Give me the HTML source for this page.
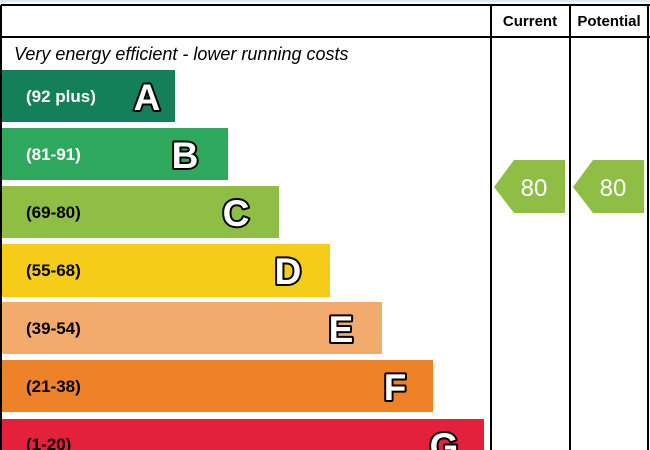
<!DOCTYPE html>
<html><head><style>body{margin:0;background:#fff}svg{display:block}</style></head><body>
<svg width="650" height="450" xmlns="http://www.w3.org/2000/svg" font-family="Liberation Sans, Arial, sans-serif">
<rect x="0" y="0" width="650" height="2" fill="#dde8f0"/>
<g stroke="#000" stroke-width="2" fill="none">
<line x1="1" y1="5" x2="650" y2="5"/>
<line x1="1" y1="37" x2="650" y2="37"/>
<line x1="1" y1="5" x2="1" y2="450"/>
<line x1="491" y1="5" x2="491" y2="450"/>
<line x1="570" y1="5" x2="570" y2="450"/>
<line x1="648" y1="5" x2="648" y2="450"/>
</g>
<text x="530" y="26" font-size="15" font-weight="bold" text-anchor="middle">Current</text>
<text x="609" y="26" font-size="15" font-weight="bold" text-anchor="middle">Potential</text>
<text x="14" y="60" font-size="18" font-style="italic">Very energy efficient - lower running costs</text>
<g font-weight="bold">
<rect x="2" y="70" width="173" height="52" fill="#138059"/>
<rect x="2" y="128" width="226" height="52" fill="#2ea85c"/>
<rect x="2" y="186" width="277" height="52" fill="#8fbe44"/>
<rect x="2" y="244" width="328" height="53" fill="#f5cc17"/>
<rect x="2" y="302" width="380" height="52" fill="#f2aa6d"/>
<rect x="2" y="360" width="431" height="52" fill="#ee8228"/>
<rect x="2" y="419" width="482" height="31" fill="#e4213b"/>
<g font-size="17">
<text x="26" y="102" fill="#fff">(92 plus)</text>
<text x="26" y="160" fill="#fff">(81-91)</text>
<text x="26" y="218" fill="#000">(69-80)</text>
<text x="26" y="276" fill="#000">(55-68)</text>
<text x="26" y="334" fill="#000">(39-54)</text>
<text x="26" y="392" fill="#000">(21-38)</text>
<text x="26" y="450" fill="#000">(1-20)</text>
</g>
<g font-size="37" font-family="Liberation Sans, Arial, sans-serif" fill="#fff" stroke="#000" stroke-width="4" stroke-linejoin="round" paint-order="stroke" text-anchor="middle">
<text x="147" y="110">A</text>
<text x="185" y="168">B</text>
<text x="236" y="226">C</text>
<text x="288" y="284">D</text>
<text x="341" y="342">E</text>
<text x="395" y="400">F</text>
<text x="444" y="459">G</text>
</g>
</g>
<polygon points="494,187 514,160 565,160 565,213 514,213" fill="#8fbe44"/>
<polygon points="573,187 593,160 644,160 644,213 593,213" fill="#8fbe44"/>
<text x="534" y="196" font-size="24" fill="#fff" text-anchor="middle">80</text>
<text x="613" y="196" font-size="24" fill="#fff" text-anchor="middle">80</text>
</svg>
</body></html>
